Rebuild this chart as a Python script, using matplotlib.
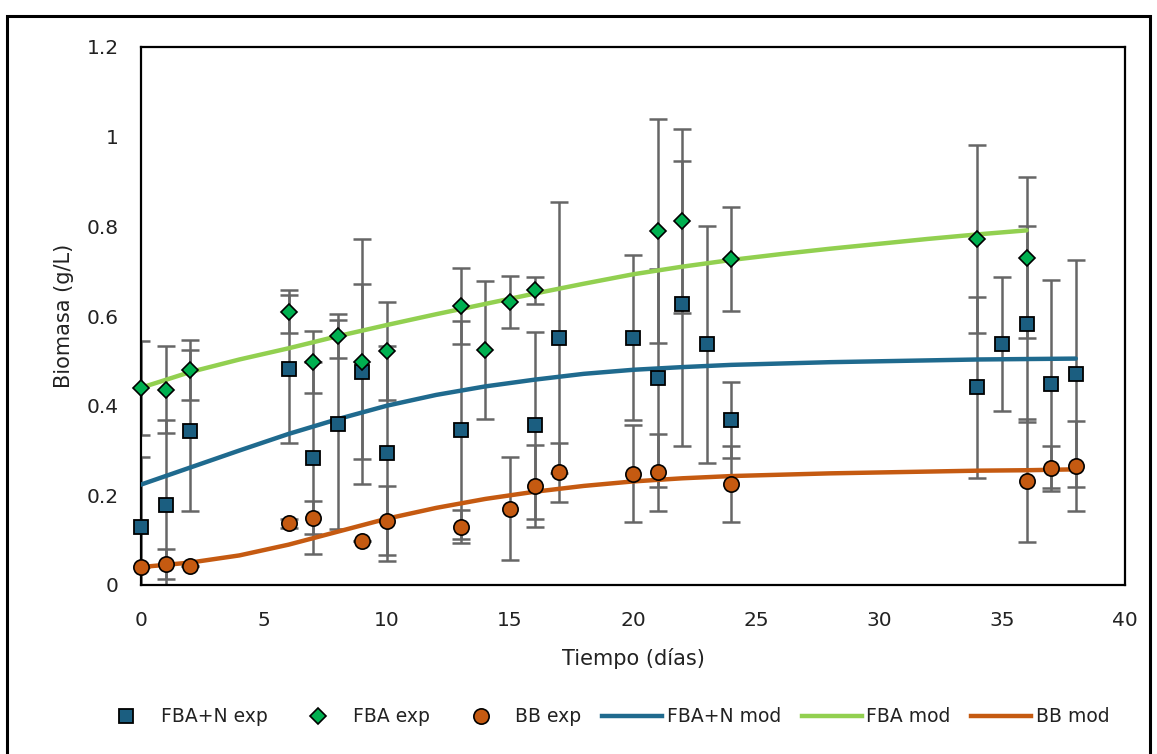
import matplotlib
matplotlib.use("Agg")
import matplotlib.pyplot as plt
from matplotlib.lines import Line2D
from matplotlib.patches import Rectangle
import numpy as np

plt.rcParams['font.family'] = ['DejaVu Sans']

# ---------------- data ----------------
# FBA+N experimental
fban_days = [0, 1, 2, 6, 7, 8, 9, 10, 13, 16, 17, 20, 21, 22, 23, 24, 34, 35, 36, 37, 38]
fban_vals = [0.130, 0.178, 0.344, 0.482, 0.283, 0.359, 0.476, 0.294, 0.346, 0.356, 0.552,
             0.552, 0.461, 0.627, 0.537, 0.368, 0.441, 0.538, 0.582, 0.448, 0.471]
fban_err = [0.155, 0.190, 0.180, 0.165, 0.214, 0.233, 0.196, 0.240, 0.243, 0.208, 0.302,
            0.184, 0.243, 0.318, 0.264, 0.085, 0.202, 0.149, 0.218, 0.232, 0.253]

# FBA experimental
fba_days = [0, 1, 2, 6, 7, 8, 9, 10, 13, 14, 15, 16, 21, 22, 24, 34, 36]
fba_vals = [0.439, 0.435, 0.480, 0.610, 0.498, 0.556, 0.498, 0.522, 0.622, 0.524, 0.631,
            0.657, 0.790, 0.811, 0.727, 0.772, 0.730]
fba_err = [0.105, 0.097, 0.067, 0.047, 0.069, 0.049, 0.273, 0.110, 0.084, 0.154, 0.058,
           0.030, 0.250, 0.205, 0.116, 0.210, 0.180]

# BB experimental
bb_days = [0, 1, 2, 6, 7, 9, 10, 13, 15, 16, 17, 20, 21, 24, 36, 37, 38]
bb_vals = [0.040, 0.047, 0.043, 0.138, 0.150, 0.098, 0.143, 0.130, 0.170, 0.221, 0.251,
           0.248, 0.251, 0.225, 0.233, 0.260, 0.266]
bb_err = [0.0, 0.033, 0.0, 0.010, 0.037, 0.0, 0.077, 0.037, 0.115, 0.092, 0.066,
          0.108, 0.085, 0.084, 0.137, 0.050, 0.100]

# model curves
mod_days = [0, 2, 4, 6, 8, 10, 12, 14, 16, 18, 20, 22, 24, 26, 28, 30, 32, 34, 36, 38]
fban_mod = [0.224, 0.262, 0.300, 0.337, 0.370, 0.400, 0.424, 0.443, 0.458, 0.471,
            0.480, 0.486, 0.491, 0.494, 0.497, 0.499, 0.501, 0.503, 0.504, 0.505]
fba_mod_days = [0, 2, 4, 6, 8, 10, 12, 14, 16, 18, 20, 22, 24, 26, 28, 30, 32, 34, 36]
fba_mod = [0.440, 0.475, 0.503, 0.528, 0.555, 0.580, 0.604, 0.627, 0.650, 0.672,
           0.693, 0.710, 0.725, 0.738, 0.750, 0.761, 0.772, 0.782, 0.791]
bb_mod = [0.040, 0.050, 0.066, 0.090, 0.119, 0.148, 0.172, 0.192, 0.208, 0.221,
          0.231, 0.238, 0.243, 0.246, 0.249, 0.251, 0.253, 0.255, 0.256, 0.258]

x_ticks = [0, 5, 10, 15, 20, 25, 30, 35, 40]
y_ticks = [0, 0.2, 0.4, 0.6, 0.8, 1.0, 1.2]
y_labels = ['0', '0.2', '0.4', '0.6', '0.8', '1', '1.2']

# ---------------- styles ----------------
c_sq = '#1B5E80'
c_dia = '#00B050'
c_circ = '#C55A11'
c_line_blue = '#1F6A8E'
c_line_green = '#92D050'
c_line_orange = '#C55A11'
c_err = '#666666'

fig = plt.figure(figsize=(11.57, 7.54), dpi=100)
ax = fig.add_axes([141 / 1157, 1 - 585 / 754, 984 / 1157, 538 / 754])

ekw = dict(fmt='none', ecolor=c_err, elinewidth=1.8, capsize=6.5, capthick=1.8, zorder=2)
ax.errorbar(fban_days, fban_vals, yerr=fban_err, **ekw)
ax.errorbar(fba_days, fba_vals, yerr=fba_err, **ekw)
ax.errorbar(bb_days, bb_vals, yerr=bb_err, **ekw)

ax.plot(mod_days, fban_mod, color=c_line_blue, lw=3.2, zorder=3, solid_capstyle='round')
ax.plot(fba_mod_days, fba_mod, color=c_line_green, lw=3.2, zorder=3, solid_capstyle='round')
ax.plot(mod_days, bb_mod, color=c_line_orange, lw=3.2, zorder=3, solid_capstyle='round')

ax.plot(fban_days, fban_vals, ls='none', marker='s', ms=10.5, mfc=c_sq, mec='black',
        mew=1.3, zorder=5, clip_on=False)
ax.plot(fba_days, fba_vals, ls='none', marker='D', ms=8, mfc=c_dia, mec='black',
        mew=1.2, zorder=5, clip_on=False)
ax.plot(bb_days, bb_vals, ls='none', marker='o', ms=11, mfc=c_circ, mec='black',
        mew=1.2, zorder=5, clip_on=False)

ax.set_xlim(0, 40)
ax.set_ylim(0, 1.2)
ax.set_xticks(x_ticks)
ax.set_xticklabels([str(t) for t in x_ticks])
ax.set_yticks(y_ticks)
ax.set_yticklabels(y_labels)
ax.tick_params(axis='both', length=0, labelsize=14.5, labelcolor='#222222')
ax.tick_params(axis='y', pad=16)
ax.tick_params(axis='x', pad=19)
for s in ax.spines.values():
    s.set_linewidth(1.6)
    s.set_color('black')

ax.set_xlabel('Tiempo (días)', fontsize=15, color='#222222', labelpad=13)
ax.set_ylabel('Biomasa (g/L)', fontsize=15, color='#222222', labelpad=9)

handles = [
    Line2D([], [], ls='none', marker='s', ms=10.5, mfc=c_sq, mec='black', mew=1.3),
    Line2D([], [], ls='none', marker='D', ms=8, mfc=c_dia, mec='black', mew=1.2),
    Line2D([], [], ls='none', marker='o', ms=11, mfc=c_circ, mec='black', mew=1.2),
    Line2D([], [], color=c_line_blue, lw=3.2),
    Line2D([], [], color=c_line_green, lw=3.2),
    Line2D([], [], color=c_line_orange, lw=3.2),
]
labels = ['FBA+N exp', 'FBA exp', 'BB exp', 'FBA+N mod', 'FBA mod', 'BB mod']
fig.legend(handles, labels, loc='center', bbox_to_anchor=(603 / 1157, 1 - 717 / 754),
           ncol=6, frameon=False, fontsize=13.5, handlelength=3.2, handletextpad=0.25,
           columnspacing=1.1, labelcolor='#222222')

# outer chart border
fig.patches.append(Rectangle((7 / 1157, -0.02), 1143 / 1157, 1 - 16 / 754 + 0.02,
                             transform=fig.transFigure, fill=False, ec='black', lw=2.2))

fig.savefig('out.png', dpi=100)
